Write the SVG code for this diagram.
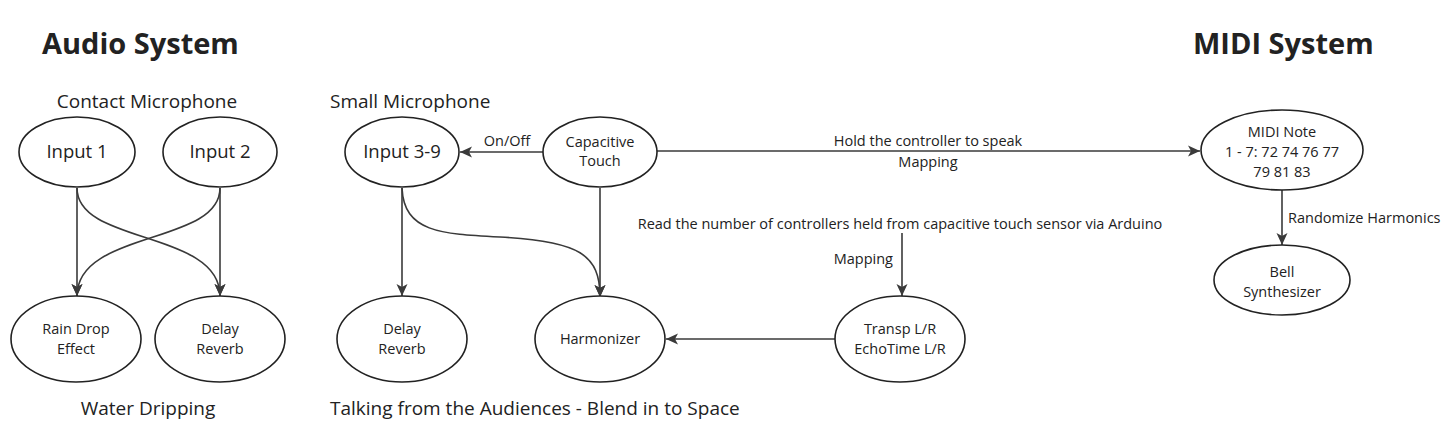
<svg xmlns="http://www.w3.org/2000/svg" width="1456" height="444" viewBox="0 0 1456 444">
<defs>
<style>
.n ellipse{fill:#fff;stroke:#222;stroke-width:1.6}
.t{font-family:"Open Sans","Noto Sans","Liberation Sans",sans-serif;fill:#222;text-anchor:middle}
.big{font-size:18.5px}
.sm{font-size:14.5px}
.lab{font-size:19px}
.h{font-size:29px;font-weight:bold;text-anchor:start}
.e path,.e line{fill:none;stroke:#3a3a3a;stroke-width:1.6}
.arr{marker-end:url(#ah)}
</style>
<marker id="ah" markerUnits="userSpaceOnUse" markerWidth="14" markerHeight="14" viewBox="0 0 14 14" refX="13" refY="7" orient="auto">
<path d="M1,1.5 L13,7 L1,12.5 L4,7 z" fill="#3a3a3a" stroke="none"/>
</marker>
</defs>
<rect width="1456" height="444" fill="#fff"/>

<g id="titles">
<text class="t h" x="42" y="54">Audio System</text>
<text class="t h" x="1193" y="54">MIDI System</text>
<text class="t lab" x="147" y="108">Contact Microphone</text>
<text class="t lab" x="330" y="108" style="text-anchor:start">Small Microphone</text>
<text class="t lab" x="148" y="415">Water Dripping</text>
<text class="t lab" x="330" y="415" style="text-anchor:start">Talking from the Audiences - Blend in to Space</text>
</g>

<g id="connectors" class="e">
<line class="arr" x1="77" y1="188" x2="77" y2="296"/>
<line class="arr" x1="220" y1="188" x2="220" y2="296"/>
<path class="arr" d="M77,188 C77,245 220,230 220,296"/>
<path class="arr" d="M220,188 C220,245 77,230 77,296"/>
<line class="arr" x1="402" y1="188" x2="402" y2="296"/>
<path class="arr" d="M402,188 C404,232 440,234 500,237 C580,241 600,255 600,297"/>
<line class="arr" x1="543" y1="152" x2="460" y2="152"/>
<line class="arr" x1="600" y1="188" x2="600" y2="297"/>
<line class="arr" x1="657" y1="151" x2="1200" y2="151"/>
<line class="arr" x1="902" y1="233" x2="902" y2="296"/>
<line class="arr" x1="835" y1="339" x2="666" y2="339"/>
<line class="arr" x1="1282" y1="190" x2="1282" y2="245"/>
</g>

<g id="edge-labels">
<text class="t sm" x="507" y="146">On/Off</text>
<text class="t sm" x="928" y="146">Hold the controller to speak</text>
<text class="t sm" x="928" y="167">Mapping</text>
<text class="t sm" x="900" y="229">Read the number of controllers held from capacitive touch sensor via Arduino</text>
<text class="t sm" x="893" y="264" style="text-anchor:end">Mapping</text>
<text class="t sm" x="1288" y="223" style="text-anchor:start">Randomize Harmonics</text>
</g>

<g id="input1" class="n"><ellipse cx="77" cy="152" rx="58" ry="35"/><text class="t big" x="77" y="158">Input 1</text></g>
<g id="input2" class="n"><ellipse cx="220" cy="152" rx="57" ry="35"/><text class="t big" x="220" y="158">Input 2</text></g>
<g id="input39" class="n"><ellipse cx="402" cy="152" rx="57" ry="35"/><text class="t big" x="402" y="158">Input 3-9</text></g>
<g id="captouch" class="n"><ellipse cx="600" cy="152" rx="57" ry="35"/><text class="t sm" x="600" y="147">Capacitive</text><text class="t sm" x="600" y="166">Touch</text></g>
<g id="midinote" class="n"><ellipse cx="1282" cy="150" rx="81" ry="40"/><text class="t sm" x="1282" y="137">MIDI Note</text><text class="t sm" x="1282" y="157">1 - 7: 72 74 76 77</text><text class="t sm" x="1282" y="177">79 81 83</text></g>
<g id="bell" class="n"><ellipse cx="1282" cy="280" rx="68" ry="35"/><text class="t sm" x="1282" y="277">Bell</text><text class="t sm" x="1282" y="297">Synthesizer</text></g>
<g id="raindrop" class="n"><ellipse cx="76" cy="339" rx="65" ry="43"/><text class="t sm" x="76" y="334">Rain Drop</text><text class="t sm" x="76" y="354">Effect</text></g>
<g id="delay1" class="n"><ellipse cx="220" cy="339" rx="65" ry="43"/><text class="t sm" x="220" y="334">Delay</text><text class="t sm" x="220" y="354">Reverb</text></g>
<g id="delay2" class="n"><ellipse cx="402" cy="339" rx="65" ry="43"/><text class="t sm" x="402" y="334">Delay</text><text class="t sm" x="402" y="354">Reverb</text></g>
<g id="harmonizer" class="n"><ellipse cx="600" cy="339" rx="65" ry="43"/><text class="t sm" x="600" y="344">Harmonizer</text></g>
<g id="transp" class="n"><ellipse cx="900" cy="339" rx="65" ry="43"/><text class="t sm" x="900" y="334">Transp L/R</text><text class="t sm" x="900" y="354">EchoTime L/R</text></g>
</svg>
